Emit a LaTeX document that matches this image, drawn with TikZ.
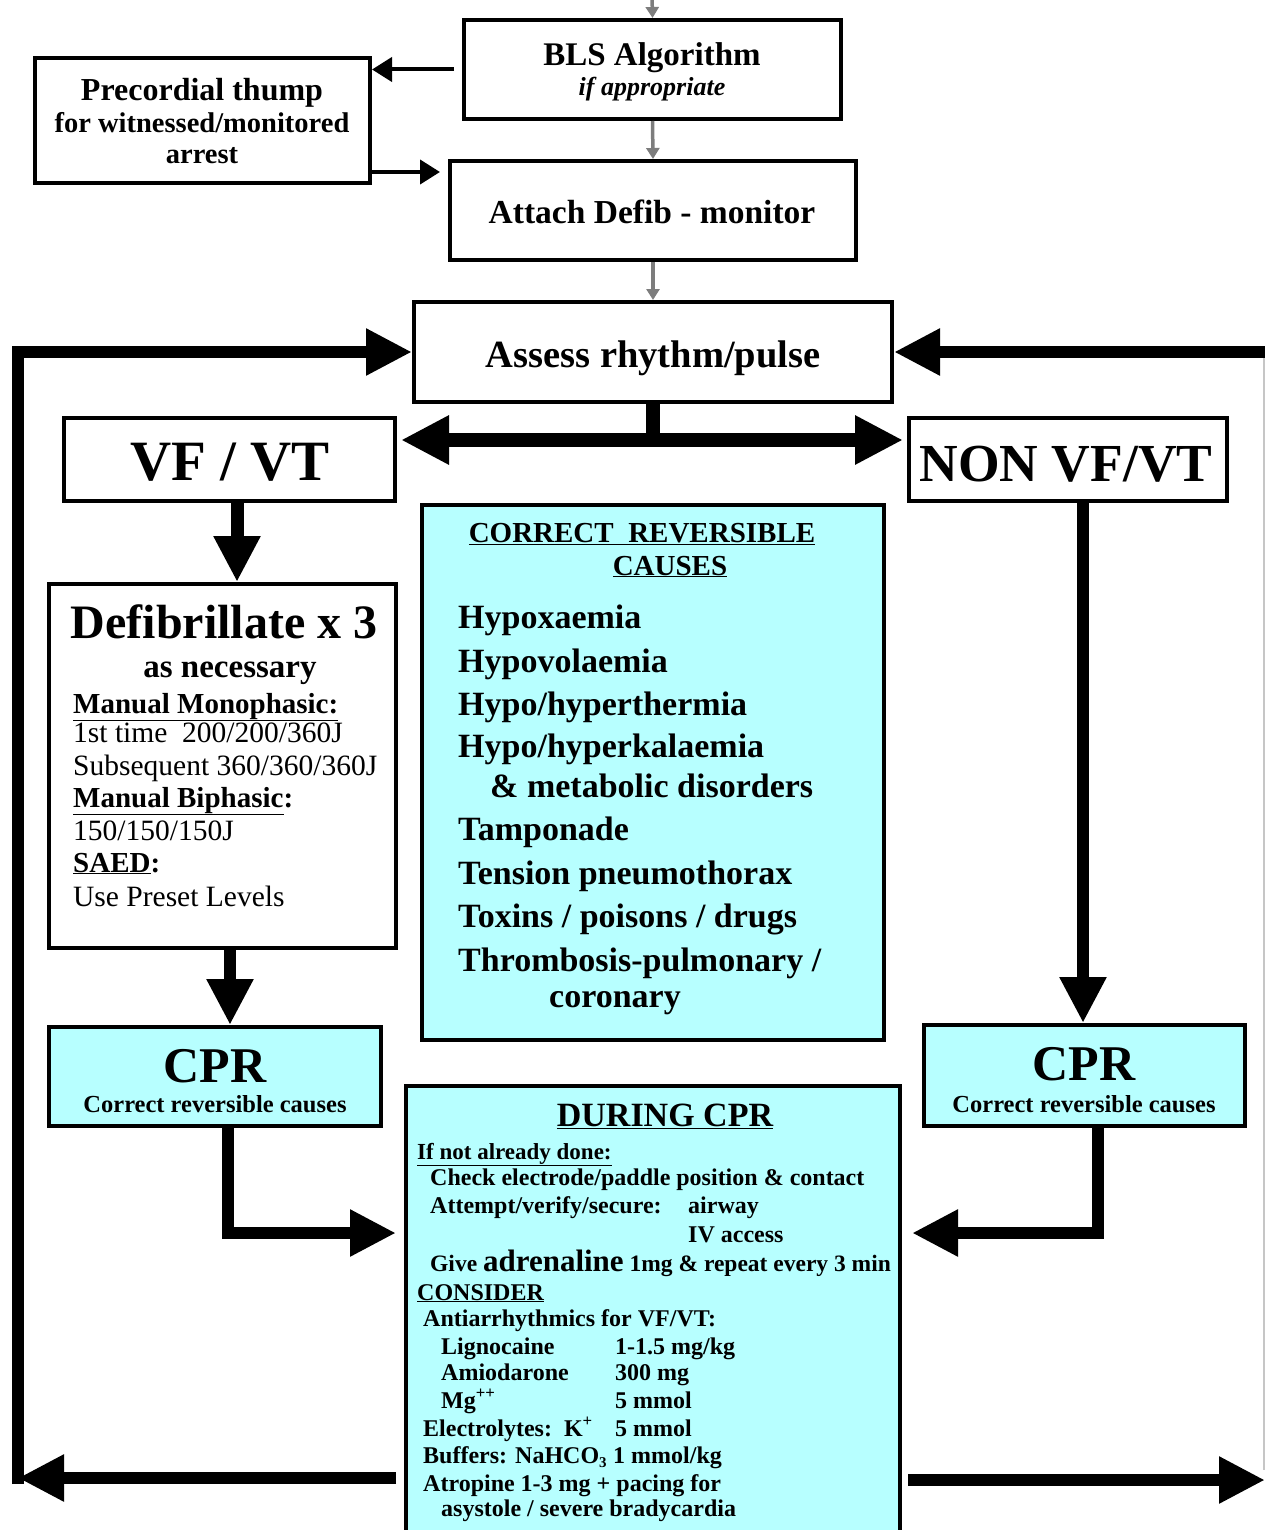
\documentclass[tikz,border=0pt]{standalone}
\usepackage{fontspec}
\setmainfont{Liberation Serif}
\usetikzlibrary{arrows.meta}
\definecolor{cyanbox}{RGB}{183,255,255}
\definecolor{grayarr}{RGB}{125,125,125}
\newcommand{\fsz}[1]{\fontsize{#1}{#1}\selectfont}
\begin{document}
\begin{tikzpicture}[x=1pt,y=-1pt,
  box/.style={draw=black, line width=4pt, fill=white, inner sep=0pt},
  cbox/.style={box, fill=cyanbox},
  txt/.style={inner sep=0pt, font=\bfseries},
  rtxt/.style={inner sep=0pt},
  bigarrow/.style={line width=12pt, -{Triangle[length=46pt,width=44pt]}},
  grayarrow/.style={draw=grayarr, line width=3.5pt, -{Triangle[length=11pt,width=13pt]}},
  smallarrow/.style={line width=4pt, -{Triangle[length=20pt,width=24pt]}},
]
\useasboundingbox (0,0) rectangle (1265,1530);
\clip (0,0) rectangle (1265,1530);

% ---------- boxes ----------
\node[box, minimum width=377pt, minimum height=99pt] (bls) at (652.5,69.5) {};
\node[box, minimum width=335pt, minimum height=125pt] (thump) at (202.5,120.5) {};
\node[box, minimum width=406pt, minimum height=99pt] (attach) at (653,210.5) {};
\node[box, minimum width=478pt, minimum height=100pt] (assess) at (653,352) {};
\node[box, minimum width=331pt, minimum height=83pt] (vf) at (229.5,459.5) {};
\node[box, minimum width=318pt, minimum height=83pt] (nonvf) at (1068,459.5) {};
\node[cbox, minimum width=462pt, minimum height=535pt] (causes) at (653,772.5) {};
\node[box, minimum width=347pt, minimum height=364pt] (defib) at (222.5,766) {};
\node[cbox, minimum width=332pt, minimum height=99pt] (cprL) at (215,1076.5) {};
\node[cbox, minimum width=321pt, minimum height=101pt] (cprR) at (1084.5,1075.5) {};
\node[cbox, minimum width=494pt, minimum height=454pt] (during) at (653,1313) {};

% ---------- texts ----------
\node[txt, anchor=base] (blsA) at (652,66) {\fsz{33}BLS Algorithm};
\node[txt, anchor=base] (blsB) at (652,96) {\fsz{26}\itshape if appropriate};
\node[txt, anchor=base] (thA) at (202,101) {\fsz{32}Precordial thump};
\node[txt, anchor=base] (thB) at (202,133) {\fsz{28.5}for witnessed/monitored};
\node[txt, anchor=base] (thC) at (202,164) {\fsz{28.5}arrest};
\node[txt, anchor=base] (atA) at (652,224) {\fsz{33.5}Attach Defib - monitor};
\node[txt, anchor=base] (asA) at (653,367) {\fsz{38.5}Assess rhythm/pulse};
\node[txt, anchor=base] (vfA) at (230,480) {\fsz{57}VF / VT};
\node[txt, anchor=base] (nvA) at (1066,481) {\fsz{53.5}NON VF/VT};

% defib box
\node[txt, anchor=base] (dfA) at (224,638) {\fsz{48}Defibrillate x 3};
\node[txt, anchor=base] (dfB) at (230,677) {\fsz{33}as necessary};
\node[txt, anchor=base west] (dfC) at (73,713) {\fsz{29}\underline{Manual Monophasic:}};
\node[rtxt, anchor=base west] (dfD) at (73,742) {\fsz{29.5}1st time\ \ 200/200/360J};
\node[rtxt, anchor=base west] (dfE) at (73,775) {\fsz{29.5}Subsequent 360/360/360J};
\node[txt, anchor=base west] (dfF) at (73,807) {\fsz{29}\underline{Manual Biphasic}:};
\node[rtxt, anchor=base west] (dfG) at (73,840) {\fsz{29.5}150/150/150J};
\node[txt, anchor=base west] (dfH) at (73,872) {\fsz{29}\underline{SAED}:};
\node[rtxt, anchor=base west] (dfI) at (73,906) {\fsz{29.5}Use Preset Levels};

% causes box
\node[txt, anchor=base] (caA) at (642,542) {\fsz{29}\underline{CORRECT\ \ REVERSIBLE}};
\node[txt, anchor=base] (caB) at (670,575) {\fsz{29}\underline{CAUSES}};
\node[txt, anchor=base west] (ca1) at (458,628) {\fsz{34}Hypoxaemia};
\node[txt, anchor=base west] (ca2) at (458,672) {\fsz{34}Hypovolaemia};
\node[txt, anchor=base west] (ca3) at (458,715) {\fsz{34}Hypo/hyperthermia};
\node[txt, anchor=base west] (ca4) at (458,757) {\fsz{34}Hypo/hyperkalaemia};
\node[txt, anchor=base west] (ca5) at (490,797) {\fsz{34}\& metabolic disorders};
\node[txt, anchor=base west] (ca6) at (458,840) {\fsz{34}Tamponade};
\node[txt, anchor=base west] (ca7) at (458,884) {\fsz{34}Tension pneumothorax};
\node[txt, anchor=base west] (ca8) at (458,927) {\fsz{34}Toxins / poisons / drugs};
\node[txt, anchor=base west] (ca9) at (458,971) {\fsz{34}Thrombosis-pulmonary /};
\node[txt, anchor=base west] (ca10) at (549,1007) {\fsz{34}coronary};

% CPR boxes
\node[txt, anchor=base] (cLA) at (215,1082) {\fsz{50}CPR};
\node[txt, anchor=base] (cLB) at (215,1112) {\fsz{24.5}Correct reversible causes};
\node[txt, anchor=base] (cRA) at (1084,1080) {\fsz{50}CPR};
\node[txt, anchor=base] (cRB) at (1084,1112) {\fsz{24.5}Correct reversible causes};

% during CPR
\node[txt, anchor=base] (duA) at (665,1126) {\fsz{34}\underline{DURING CPR}};
\node[txt, anchor=base west] (du1) at (417,1159) {\fsz{23}\underline{If not already done:}};
\node[txt, anchor=base west] (du2) at (430,1185) {\fsz{24}Check electrode/paddle position \& contact};
\node[txt, anchor=base west] (du3) at (430,1213) {\fsz{24}Attempt/verify/secure:};
\node[txt, anchor=base west] (du3b) at (688,1213) {\fsz{24}airway};
\node[txt, anchor=base west] (du4) at (688,1242) {\fsz{24}IV access};
\node[txt, anchor=base west] (du5) at (430,1271) {\fsz{23.5}Give {\fsz{31}adrenaline} 1mg \& repeat every 3 min};
\node[txt, anchor=base west] (du6) at (417,1300) {\fsz{24}\underline{CONSIDER}};
\node[txt, anchor=base west] (du7) at (423,1326) {\fsz{24}Antiarrhythmics for VF/VT:};
\node[txt, anchor=base west] (du8) at (441,1354) {\fsz{24}Lignocaine};
\node[txt, anchor=base west] (du8b) at (615,1354) {\fsz{24}1-1.5 mg/kg};
\node[txt, anchor=base west] (du9) at (441,1380) {\fsz{24}Amiodarone};
\node[txt, anchor=base west] (du9b) at (615,1380) {\fsz{24}300 mg};
\node[txt, anchor=base west] (du10) at (441,1408) {\fsz{24}Mg\textsuperscript{++}};
\node[txt, anchor=base west] (du10b) at (615,1408) {\fsz{24}5 mmol};
\node[txt, anchor=base west] (du11) at (423,1436) {\fsz{24}Electrolytes:\ \ K\textsuperscript{+}};
\node[txt, anchor=base west] (du11b) at (615,1436) {\fsz{24}5 mmol};
\node[txt, anchor=base west] (du12) at (423,1463) {\fsz{24}Buffers: NaHCO\raisebox{-4pt}{\fsz{15}3}};
\node[txt, anchor=base west] (du12b) at (613,1463) {\fsz{24}1 mmol/kg};
\node[txt, anchor=base west] (du13) at (423,1491) {\fsz{24}Atropine 1-3 mg + pacing for};
\node[txt, anchor=base west] (du14) at (441,1516) {\fsz{24}asystole / severe bradycardia};

% ---------- connectors ----------
\coordinate (topin) at (652,-5);
\draw[grayarrow] (topin) -- (bls.north);
\draw[grayarrow] (bls.south) -- (attach.north);
\draw[grayarrow] (attach.south) -- (assess.north);

\draw[smallarrow] ([xshift=-8pt]bls.west) -- (thump.east |- bls.west);
\coordinate (t2) at (440,172);
\draw[smallarrow] (thump.east |- t2) -- (t2);

% split from assess
\coordinate (split) at (653,440);
\draw[line width=14pt] (assess.south) -- ([yshift=-7pt]split);
\draw[line width=14pt, {Triangle[length=48pt,width=46pt]}-{Triangle[length=48pt,width=46pt]}]
  ([xshift=4pt]vf.east |- split) -- ([xshift=-4pt]nonvf.west |- split);

% vertical arrows
\coordinate (c1) at (237,0);
\draw[bigarrow, line width=13pt] (vf.south -| c1) -- (defib.north -| c1);
\coordinate (c2) at (230,0);
\draw[bigarrow] (defib.south -| c2) -- (cprL.north -| c2);
\coordinate (c3) at (1083,0);
\draw[bigarrow] (nonvf.south -| c3) -- (cprR.north -| c3);

% CPR -> during
\coordinate (jl) at (228,1233);
\draw[bigarrow] (cprL.south -| jl) -- (jl) -- ([xshift=-8pt]during.west |- jl);
\coordinate (jr) at (1098,1233);
\draw[bigarrow] (cprR.south -| jr) -- (jr) -- ([xshift=10pt]during.east |- jr);

% loops
\coordinate (LB) at (18,1478);
\coordinate (LT) at (18,352);
\draw[bigarrow] ([xshift=-8pt]during.west |- LB) -- (LB);
\draw[bigarrow] ([yshift=-6pt]LB) -- (LT) -- (assess.west);
\coordinate (RB) at (1265,1480);
\coordinate (RT) at (1275,352);
\draw[bigarrow] ([xshift=6pt]during.east |- RB) -- (RB);
\draw[bigarrow] (RT) -- (assess.east);
\draw[draw=gray!45, line width=1.5pt] (1264,358) -- (1264,1470);
\end{tikzpicture}
\end{document}
